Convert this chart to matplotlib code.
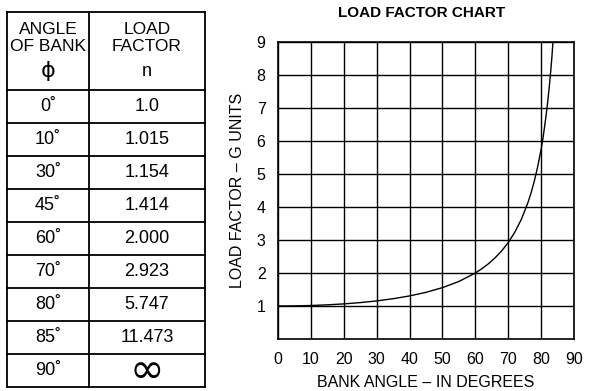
import numpy as np
import matplotlib.pyplot as plt

plt.rcParams['font.family'] = ['Liberation Sans', 'DejaVu Sans']

# table data
angles = ['0˚', '10˚', '30˚', '45˚', '60˚', '70˚', '80˚', '85˚', '90˚']
factors = ['1.0', '1.015', '1.154', '1.414', '2.000', '2.923', '5.747', '11.473', '∞']

# curve
bank_angle = [0, 5, 10, 15, 20, 25, 30, 35, 40, 45, 50, 55, 60, 62, 64, 66, 68, 70, 72,
              74, 76, 77, 78, 79, 80, 80.5, 81, 81.5, 82, 82.5, 83, 83.3, 83.6]
load_factor = [1.0, 1.004, 1.015, 1.035, 1.064, 1.103, 1.154, 1.221, 1.305, 1.414, 1.556,
               1.743, 2.0, 2.13, 2.281, 2.459, 2.669, 2.923, 3.236, 3.628, 4.134, 4.445,
               4.810, 5.241, 5.747, 6.041, 6.392, 6.765, 7.185, 7.661, 8.206, 8.570, 9.0]

fig = plt.figure(figsize=(6.02, 3.91), dpi=100)
W, H = 602, 391

# ---- table on the left ----
tab = fig.add_axes([0, 0, 1, 1])
tab.set_xlim(0, W)
tab.set_ylim(H, 0)
tab.axis('off')

left, mid, right = 7, 89, 205
top, head_bot, bot = 12, 90, 387
row_h = (bot - head_bot) / len(angles)
lw = 1.3
for x in (left, mid, right):
    tab.plot([x, x], [top, bot], color='black', lw=lw)
tab.plot([left, right], [top, top], color='black', lw=lw)
tab.plot([left, right], [head_bot, head_bot], color='black', lw=lw)
for i in range(len(angles)):
    y = head_bot + (i + 1) * row_h
    tab.plot([left, right], [y, y], color='black', lw=lw)
    yc = head_bot + (i + 0.5) * row_h
    tab.text((left + mid) / 2, yc, angles[i], ha='center', va='center', fontsize=13)
    if factors[i] == '∞':
        tab.text((mid + right) / 2, yc, factors[i], ha='center', va='center', fontsize=30,
                 family=['DejaVu Sans'])
    else:
        tab.text((mid + right) / 2, yc, factors[i], ha='center', va='center', fontsize=13)

tab.text((left + mid) / 2, 38, 'ANGLE\nOF BANK', ha='center', va='center', fontsize=12.5,
         linespacing=1.1)
tab.text((left + mid) / 2, 71, 'ϕ', ha='center', va='center', fontsize=16, family=['DejaVu Sans'])
tab.text((mid + right) / 2, 38, 'LOAD\nFACTOR', ha='center', va='center', fontsize=12.5,
         linespacing=1.1)
tab.text((mid + right) / 2, 72, 'n', ha='center', va='center', fontsize=13)

# ---- chart on the right ----
ax = fig.add_axes([278 / W, 1 - 339 / H, (574 - 278) / W, (339 - 42) / H])
ax.plot(bank_angle, load_factor, color='black', lw=1.0)
ax.set_xlim(0, 90)
ax.set_ylim(0, 9)
ax.set_xticks(np.arange(0, 91, 10))
ax.set_yticks(np.arange(1, 10, 1))
ax.grid(True, color='black', lw=1.0)
for s in ax.spines.values():
    s.set_linewidth(1.2)
ax.tick_params(length=0, labelsize=11.5, pad=9)
ax.set_xlabel('BANK ANGLE – IN DEGREES', fontsize=11.5, labelpad=6)
ax.set_ylabel('LOAD FACTOR – G UNITS', fontsize=11.5, labelpad=8)
fig.text(422 / W, 1 - 13 / H, 'LOAD FACTOR CHART', ha='center', va='center',
         fontsize=11, fontweight='bold')

fig.savefig('out.png', dpi=100)
